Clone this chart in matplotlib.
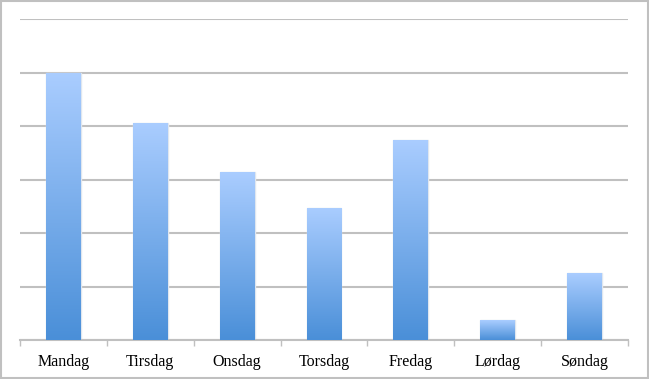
import matplotlib
matplotlib.use("Agg")
import matplotlib.pyplot as plt
import numpy as np
from matplotlib.colors import LinearSegmentedColormap
from matplotlib.patches import Rectangle

days = ["Mandag", "Tirsdag", "Onsdag", "Torsdag", "Fredag", "Lørdag", "Søndag"]
values = [50, 40.6, 31.4, 24.7, 37.4, 3.7, 12.5]

fig = plt.figure(figsize=(6.49, 3.79), dpi=100)
ax = fig.add_axes([20/649, 39/379, 608/649, 321/379])

x = np.arange(len(days))
bars = ax.bar(x, values, width=0.40, color="none", edgecolor="none", zorder=3)

cmap = LinearSegmentedColormap.from_list("g", ["#4a8fd8", "#aacdff"])
grad = np.linspace(0, 1, 256).reshape(-1, 1)
for b in bars:
    x0, w, h = b.get_x(), b.get_width(), b.get_height()
    im = ax.imshow(grad, cmap=cmap, origin="lower", aspect="auto",
                   extent=[x0, x0 + w, 0, h], zorder=3)
    im.set_clip_path(b)
    ax.add_patch(Rectangle((x0, 0), w, h, fill=False, edgecolor="#dfe6ef",
                           linewidth=1.0, zorder=2))

ax.set_xlim(-0.5, len(days) - 0.5)
ax.set_ylim(0, 60)
ax.set_yticks(np.arange(0, 61, 10))
ax.yaxis.grid(True, color="#c0c0c0", linewidth=1.5)
ax.set_axisbelow(True)
ax.tick_params(axis="y", left=False, labelleft=False)
for s in ["top", "right", "left"]:
    ax.spines[s].set_visible(False)
ax.spines["bottom"].set_color("#c0c0c0")
ax.spines["bottom"].set_linewidth(1.5)

ax.set_xticks(x)
ax.set_xticklabels(days, fontfamily="Liberation Serif", fontsize=11.5)
ax.set_xticks(np.arange(-0.5, len(days)), minor=True)
ax.tick_params(axis="x", which="major", length=0, pad=10)
ax.tick_params(axis="x", which="minor", length=4, width=1, color="#c0c0c0")

fig.patches.append(Rectangle((0.0015, 0.0025), 0.997, 0.995, transform=fig.transFigure,
                             fill=False, edgecolor="#c0c0c0", linewidth=1.5))

fig.savefig("out.png", dpi=100)
